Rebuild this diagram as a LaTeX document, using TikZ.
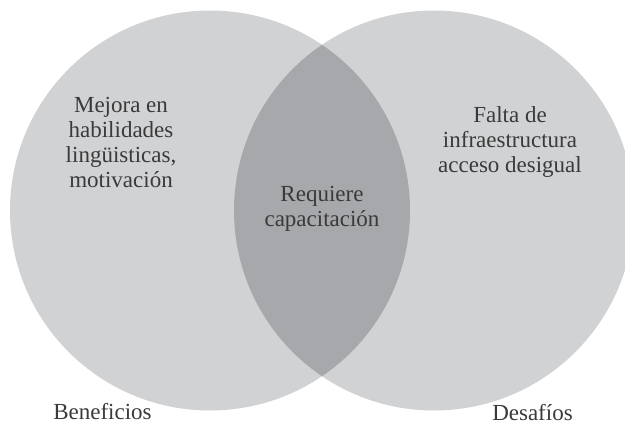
\documentclass[tikz,border=0pt]{standalone}
\usepackage{fontspec}
\setmainfont{Liberation Serif}
\definecolor{lightfill}{HTML}{D1D2D4}
\definecolor{darkfill}{HTML}{A7A8AB}
\definecolor{txt}{HTML}{3A3A3A}
\begin{document}
\begin{tikzpicture}[x=1pt,y=1pt,
  lbl/.style={text=txt,inner sep=0pt,align=center,anchor=base,font=\fontsize{23}{25}\selectfont}]
\useasboundingbox (0,0) rectangle (625,426);
\clip (0,0) rectangle (625,426);
\coordinate (cl) at (210,215.5);
\coordinate (cr) at (434,215.5);
\fill[lightfill] (cl) circle[radius=200];
\fill[lightfill] (cr) circle[radius=200];
\begin{scope}
  \clip (cl) circle[radius=200];
  \fill[darkfill] (cr) circle[radius=200];
\end{scope}
\node[lbl] (ben) at (121,238) {Mejora en\\habilidades\\lingüisticas,\\motivación};
\node[lbl] (des) at (510,253) {Falta de\\infraestructura\\acceso desigual};
\node[lbl] (req) at (322,199) {Requiere\\capacitación};
\node[lbl] (tb) at (102.5,6) {Beneficios};
\node[lbl] (td) at (532.5,5) {Desafíos};
\end{tikzpicture}
\end{document}
